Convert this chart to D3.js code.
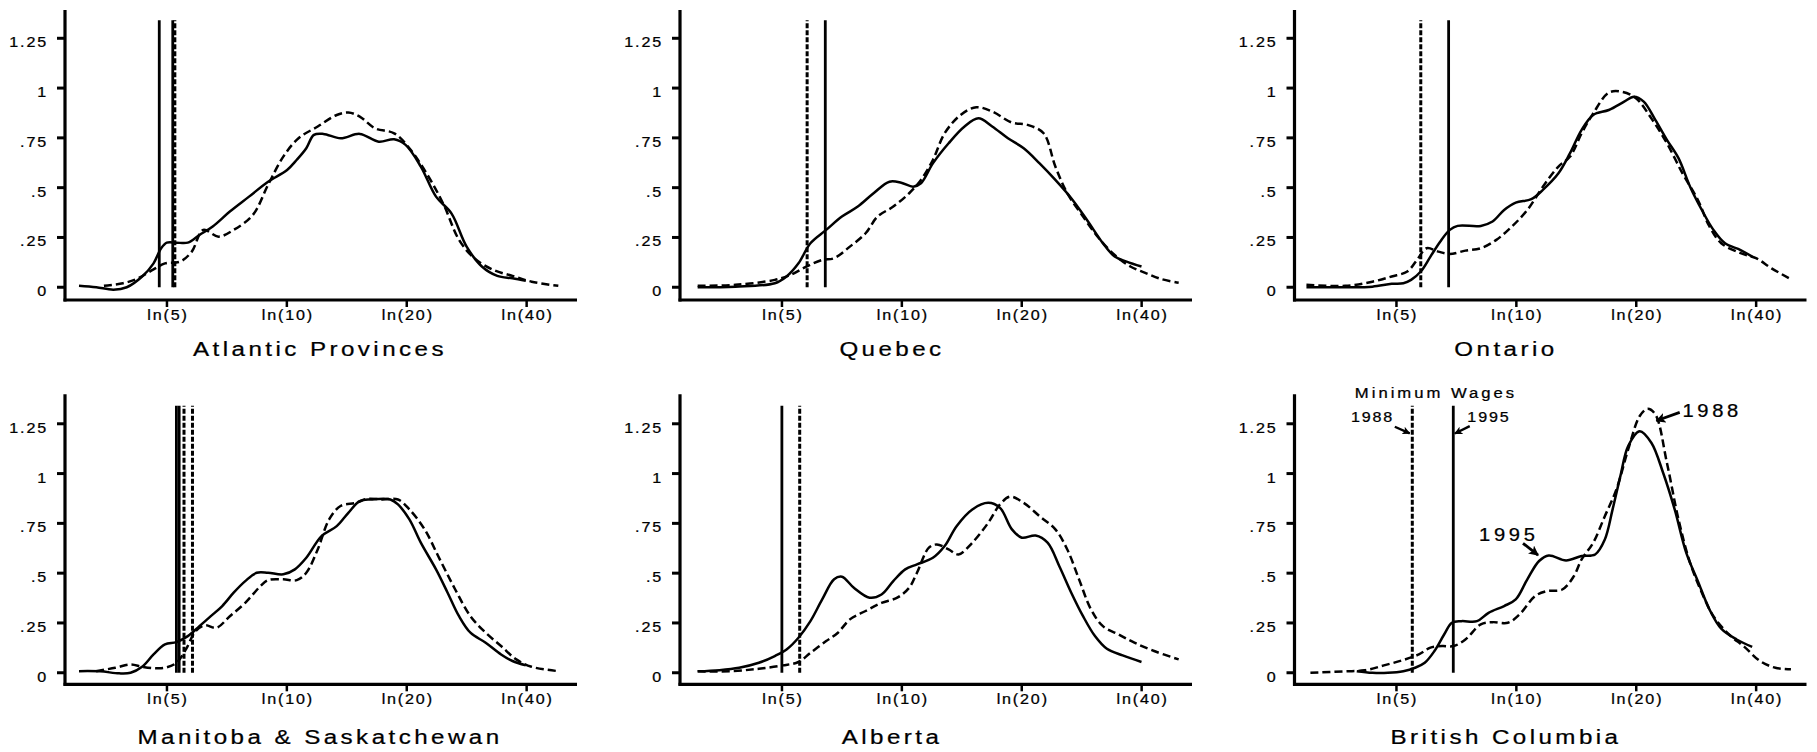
<!DOCTYPE html>
<html><head><meta charset="utf-8">
<script src="https://cdn.jsdelivr.net/npm/d3@7"></script>
<style>
body{margin:0;background:#fff}
svg{display:block}
text{font-family:"Liberation Sans",Arial,Helvetica,sans-serif;fill:#000}
</style>
</head><body>
<svg id="chart" width="1817" height="752"></svg>
<script>
// ---------------- data (x = ln(real hourly wage), y = kernel density) ----------------
const panelTitles = ["Atlantic Provinces","Quebec","Ontario","Manitoba & Saskatchewan","Alberta","British Columbia"];
const xTickWages = [5,10,20,40];
const yTickValues = [0,0.25,0.5,0.75,1,1.25];
const yTickLabels = ["0",".25",".5",".75","1","1.25"];

const atlantic1995 = [[1.101,0.008],[1.201,0.0],[1.300,-0.012],[1.377,0.0],[1.466,0.054],[1.532,0.12],[1.576,0.196],[1.609,0.224],[1.664,0.224],[1.730,0.224],[1.797,0.262],[1.874,0.305],[1.973,0.38],[2.084,0.455],[2.194,0.53],[2.304,0.589],[2.36,0.64],[2.415,0.698],[2.459,0.765],[2.514,0.77],[2.614,0.748],[2.724,0.77],[2.834,0.731],[2.923,0.743],[2.989,0.715],[3.077,0.606],[3.165,0.455],[3.254,0.371],[3.342,0.204],[3.43,0.104],[3.519,0.057],[3.607,0.045],[3.684,0.033]];
const atlantic1988 = [[1.245,0.007],[1.355,0.02],[1.443,0.045],[1.532,0.09],[1.598,0.12],[1.686,0.129],[1.753,0.179],[1.819,0.288],[1.907,0.254],[1.995,0.288],[2.106,0.363],[2.194,0.514],[2.282,0.656],[2.37,0.748],[2.481,0.807],[2.591,0.865],[2.658,0.877],[2.724,0.857],[2.812,0.798],[2.923,0.773],[3.011,0.698],[3.121,0.556],[3.21,0.413],[3.298,0.238],[3.386,0.146],[3.497,0.087],[3.607,0.057],[3.718,0.028],[3.872,0.007]];

const quebec1995 = [[1.122,0.0],[1.34,0.003],[1.568,0.02],[1.636,0.054],[1.705,0.12],[1.774,0.221],[1.865,0.288],[1.956,0.355],[2.048,0.405],[2.139,0.472],[2.231,0.53],[2.299,0.525],[2.368,0.505],[2.413,0.522],[2.482,0.622],[2.573,0.723],[2.665,0.807],[2.745,0.848],[2.825,0.807],[2.916,0.748],[3.007,0.698],[3.099,0.622],[3.19,0.539],[3.282,0.447],[3.373,0.338],[3.465,0.221],[3.533,0.154],[3.602,0.129],[3.688,0.104]];
const quebec1988 = [[1.122,0.007],[1.34,0.012],[1.568,0.037],[1.659,0.062],[1.751,0.104],[1.842,0.137],[1.911,0.146],[2.002,0.204],[2.093,0.271],[2.162,0.355],[2.253,0.405],[2.345,0.472],[2.413,0.539],[2.482,0.639],[2.55,0.773],[2.642,0.865],[2.733,0.904],[2.825,0.882],[2.939,0.827],[3.03,0.815],[3.122,0.773],[3.19,0.606],[3.259,0.472],[3.35,0.355],[3.442,0.246],[3.533,0.162],[3.624,0.104],[3.716,0.07],[3.807,0.04],[3.903,0.023]];

const ontario1995 = [[1.089,0.0],[1.313,0.0],[1.47,0.003],[1.582,0.017],[1.649,0.02],[1.694,0.037],[1.75,0.079],[1.806,0.154],[1.862,0.229],[1.918,0.288],[1.963,0.308],[2.097,0.308],[2.165,0.33],[2.232,0.388],[2.299,0.425],[2.389,0.442],[2.456,0.489],[2.546,0.572],[2.613,0.673],[2.68,0.79],[2.747,0.865],[2.837,0.89],[2.926,0.932],[2.982,0.957],[3.039,0.932],[3.106,0.84],[3.173,0.74],[3.24,0.648],[3.307,0.505],[3.375,0.388],[3.442,0.288],[3.509,0.221],[3.599,0.187],[3.666,0.154]];
const ontario1988 = [[1.089,0.012],[1.313,0.007],[1.47,0.028],[1.582,0.054],[1.672,0.079],[1.728,0.137],[1.784,0.196],[1.851,0.179],[1.918,0.167],[2.008,0.184],[2.097,0.196],[2.187,0.238],[2.277,0.305],[2.366,0.388],[2.456,0.505],[2.546,0.606],[2.613,0.656],[2.68,0.773],[2.747,0.873],[2.837,0.977],[2.915,0.981],[2.994,0.949],[3.083,0.848],[3.173,0.723],[3.263,0.572],[3.352,0.438],[3.419,0.305],[3.487,0.221],[3.599,0.171],[3.688,0.146],[3.778,0.095],[3.89,0.04]];

const manisask1995 = [[1.101,0.008],[1.223,0.007],[1.333,-0.003],[1.399,0.0],[1.466,0.03],[1.532,0.092],[1.598,0.142],[1.664,0.154],[1.73,0.184],[1.797,0.234],[1.863,0.284],[1.929,0.335],[1.995,0.402],[2.062,0.46],[2.128,0.502],[2.194,0.502],[2.282,0.494],[2.349,0.519],[2.415,0.577],[2.503,0.686],[2.591,0.736],[2.658,0.803],[2.724,0.862],[2.79,0.87],[2.901,0.87],[2.945,0.845],[3.011,0.77],[3.077,0.653],[3.165,0.519],[3.232,0.402],[3.298,0.284],[3.364,0.201],[3.452,0.151],[3.541,0.092],[3.607,0.059],[3.684,0.037]];
const manisask1988 = [[1.2,0.008],[1.311,0.025],[1.399,0.042],[1.466,0.03],[1.532,0.023],[1.598,0.025],[1.664,0.05],[1.719,0.117],[1.775,0.209],[1.83,0.238],[1.896,0.226],[1.973,0.284],[2.062,0.351],[2.15,0.435],[2.194,0.465],[2.282,0.469],[2.36,0.465],[2.415,0.502],[2.481,0.619],[2.547,0.77],[2.613,0.837],[2.702,0.853],[2.768,0.873],[2.856,0.87],[2.945,0.87],[3.011,0.82],[3.099,0.72],[3.187,0.569],[3.276,0.418],[3.364,0.284],[3.452,0.201],[3.541,0.134],[3.629,0.067],[3.717,0.03],[3.872,0.008]];

const alberta1995 = [[1.122,0.007],[1.248,0.013],[1.362,0.025],[1.476,0.05],[1.568,0.084],[1.636,0.117],[1.705,0.176],[1.774,0.259],[1.842,0.368],[1.911,0.469],[1.956,0.482],[2.025,0.427],[2.116,0.377],[2.185,0.393],[2.253,0.46],[2.322,0.519],[2.39,0.544],[2.482,0.577],[2.55,0.636],[2.619,0.736],[2.71,0.82],[2.802,0.853],[2.87,0.828],[2.939,0.72],[2.996,0.678],[3.076,0.689],[3.145,0.653],[3.213,0.535],[3.282,0.402],[3.35,0.284],[3.419,0.184],[3.488,0.12],[3.579,0.087],[3.688,0.054]];
const alberta1988 = [[1.122,0.007],[1.317,0.008],[1.476,0.02],[1.614,0.037],[1.705,0.054],[1.774,0.1],[1.865,0.159],[1.933,0.201],[2.002,0.268],[2.093,0.31],[2.185,0.351],[2.276,0.377],[2.345,0.427],[2.39,0.502],[2.459,0.628],[2.505,0.644],[2.573,0.619],[2.63,0.594],[2.71,0.653],[2.802,0.753],[2.87,0.845],[2.928,0.884],[3.007,0.853],[3.099,0.786],[3.19,0.72],[3.259,0.619],[3.327,0.469],[3.396,0.318],[3.465,0.234],[3.556,0.192],[3.647,0.151],[3.761,0.109],[3.903,0.067]];

const bc1995 = [[1.38,0.008],[1.47,0.0],[1.56,0.0],[1.649,0.008],[1.717,0.025],[1.773,0.05],[1.829,0.109],[1.885,0.192],[1.93,0.251],[1.985,0.259],[2.075,0.259],[2.142,0.301],[2.232,0.335],[2.299,0.368],[2.366,0.469],[2.434,0.561],[2.49,0.589],[2.59,0.564],[2.68,0.586],[2.758,0.594],[2.814,0.669],[2.859,0.82],[2.904,0.987],[2.949,1.138],[3.016,1.213],[3.083,1.155],[3.151,1.004],[3.218,0.82],[3.285,0.602],[3.352,0.46],[3.419,0.318],[3.487,0.221],[3.576,0.167],[3.666,0.13]];
const bc1988 = [[1.112,0.0],[1.313,0.007],[1.425,0.012],[1.537,0.037],[1.649,0.064],[1.739,0.092],[1.806,0.126],[1.873,0.134],[1.94,0.134],[2.008,0.167],[2.097,0.243],[2.165,0.254],[2.254,0.251],[2.321,0.293],[2.411,0.385],[2.478,0.41],[2.568,0.418],[2.635,0.485],[2.68,0.569],[2.747,0.653],[2.814,0.786],[2.881,0.92],[2.949,1.121],[3.016,1.289],[3.061,1.325],[3.106,1.297],[3.173,1.054],[3.24,0.77],[3.307,0.552],[3.375,0.402],[3.442,0.284],[3.532,0.192],[3.621,0.13],[3.711,0.059],[3.8,0.025],[3.89,0.017]];

// minimum wages (ln of real minimum wage), one per province in the region
const minWage1988 = [[1.655],[1.755],[1.75],[1.708,1.757],[1.712],[1.701]];
const minWage1995 = [[1.565,1.643],[1.86],[1.911],[1.664,1.68],[1.609],[1.938]];

const series1995 = [atlantic1995, quebec1995, ontario1995, manisask1995, alberta1995, bc1995];
const series1988 = [atlantic1988, quebec1988, ontario1988, manisask1988, alberta1988, bc1988];

// annotation (British Columbia panel), in data coordinates
const annoTexts = [
  {t:"Minimum Wages", x:1.838, y:1.378, size:14.5, ls:2.6},
  {t:"1988", x:1.471, y:1.26, size:14, ls:1.6},
  {t:"1995", x:2.144, y:1.26, size:14, ls:1.6},
  {t:"1988", x:3.435, y:1.285, size:17.5, ls:3.2},
  {t:"1995", x:2.259, y:0.663, size:17.5, ls:3.2}
];
const annoArrows = [
  {x1:1.600, y1:1.235, x2:1.686, y2:1.202},
  {x1:2.033, y1:1.238, x2:1.947, y2:1.201},
  {x1:3.247, y1:1.307, x2:3.112, y2:1.265},
  {x1:2.341, y1:0.650, x2:2.428, y2:0.591}
];

// ---------------- layout ----------------
const colLeft = [65, 680, 1294.5];
const panelWidth = 512;
const rowTop = [10, 394.3];
const rowBottom = [300, 684.3];
const yDomainByRow = [[-0.064, 1.392], [-0.058, 1.398]];
const xDomain = [1.02, 3.98];
const titleX = [320, 892, 1506];
const titleBaseline = [356, 744.3];
const vlineTop = 1.34;
const SX = 1.15; // horizontal stretch of the original lettering

const svg = d3.select("#chart");
const defs = svg.append("defs");
defs.append("marker").attr("id","ah").attr("viewBox","0 0 10 10")
  .attr("refX",9).attr("refY",5).attr("markerWidth",8).attr("markerHeight",8)
  .attr("markerUnits","userSpaceOnUse").attr("orient","auto")
  .append("path").attr("d","M0,0 L10,5 L0,10 L2.5,5 z").attr("fill","#000");
defs.append("marker").attr("id","ahBig").attr("viewBox","0 0 10 10")
  .attr("refX",9).attr("refY",5).attr("markerWidth",10).attr("markerHeight",10)
  .attr("markerUnits","userSpaceOnUse").attr("orient","auto")
  .append("path").attr("d","M0,0 L10,5 L0,10 L2.5,5 z").attr("fill","#000");

function stretchText(g, x, y, str, size, ls, anchor){
  g.append("text")
    .attr("transform", `translate(${x},${y}) scale(${SX},1)`)
    .attr("text-anchor", anchor)
    .style("font-size", size + "px")
    .style("letter-spacing", ls + "px")
    .style("stroke", "#000").style("stroke-width", 0.25)
    .text(str);
}

for (let i = 0; i < 6; i++){
  const row = Math.floor(i / 3), col = i % 3;
  const left = colLeft[col], right = left + panelWidth;
  const top = rowTop[row], bottom = rowBottom[row];
  const x = d3.scaleLinear().domain(xDomain).range([left, right]);
  const y = d3.scaleLinear().domain(yDomainByRow[row]).range([bottom, top]);
  const g = svg.append("g");

  // axes lines
  g.append("line").attr("x1", left).attr("x2", left).attr("y1", top).attr("y2", bottom + 1.5)
    .attr("stroke","#000").attr("stroke-width",3.2);
  g.append("line").attr("x1", left - 1.5).attr("x2", right).attr("y1", bottom).attr("y2", bottom)
    .attr("stroke","#000").attr("stroke-width",3.2);

  // y ticks
  yTickValues.forEach((v, k) => {
    g.append("line").attr("x1", left - 8).attr("x2", left).attr("y1", y(v)).attr("y2", y(v))
      .attr("stroke","#000").attr("stroke-width",3);
    stretchText(g, left - 17, y(v) + 9, yTickLabels[k], 14, 1.6, "end");
  });
  // x ticks
  xTickWages.forEach(w => {
    const px = x(Math.log(w));
    g.append("line").attr("x1", px).attr("x2", px).attr("y1", bottom).attr("y2", bottom + 7)
      .attr("stroke","#000").attr("stroke-width",2.5);
    stretchText(g, px + 1, bottom + 20, `ln(${w})`, 14, 1.6, "middle");
  });

  // minimum wage lines
  minWage1995[i].forEach(m => {
    g.append("line").attr("x1", x(m)).attr("x2", x(m)).attr("y1", y(0)).attr("y2", y(vlineTop))
      .attr("stroke","#000").attr("stroke-width",2.8);
  });
  minWage1988[i].forEach(m => {
    g.append("line").attr("x1", x(m)).attr("x2", x(m)).attr("y1", y(0)).attr("y2", y(vlineTop))
      .attr("stroke","#000").attr("stroke-width",3).attr("stroke-dasharray","5,2");
  });

  // density curves
  const line = d3.line().x(d => x(d[0])).y(d => y(d[1])).curve(d3.curveCatmullRom.alpha(0.5));
  g.append("path").attr("d", line(series1988[i])).attr("fill","none").attr("stroke","#000")
    .attr("stroke-width",2.5).attr("stroke-dasharray","8,4");
  g.append("path").attr("d", line(series1995[i])).attr("fill","none").attr("stroke","#000")
    .attr("stroke-width",2.5);

  // title
  stretchText(g, titleX[col], titleBaseline[row], panelTitles[i], 21, 3, "middle");

  // annotations for BC
  if (i === 5){
    annoTexts.forEach(a => stretchText(g, x(a.x), y(a.y), a.t, a.size, a.ls, "middle"));
    annoArrows.forEach((a, k) => {
      g.append("line").attr("x1", x(a.x1)).attr("y1", y(a.y1)).attr("x2", x(a.x2)).attr("y2", y(a.y2))
        .attr("stroke","#000").attr("stroke-width", k < 2 ? 2.4 : 2.8)
        .attr("marker-end", k < 2 ? "url(#ah)" : "url(#ahBig)");
    });
  }
}
</script>
</body></html>
